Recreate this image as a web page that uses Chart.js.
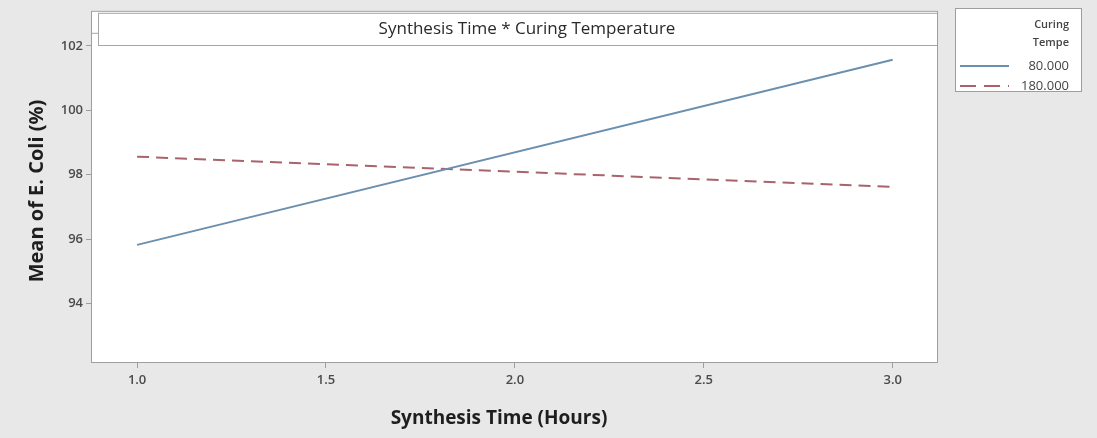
<!DOCTYPE html>
<html>
<head>
<meta charset="utf-8">
<script src="https://cdn.jsdelivr.net/npm/chart.js@4/dist/chart.umd.min.js"></script>
<style>
  html, body { margin: 0; padding: 0; background: #e8e8e8; }
  canvas { display: block; }
</style>
</head>
<body>
<canvas id="grafica" width="1097" height="438"></canvas>
<script>
// Synthesis time (hours) and mean E. coli (%) for each curing temperature
const synthesisTime = [1.0, 3.0];
const temp80 = [95.82, 101.57];
const temp180 = [98.56, 97.62];
const seriesNames = ['80.000', '180.000'];
const xTicks = [1.0, 1.5, 2.0, 2.5, 3.0];
const yTicks = [94, 96, 98, 100, 102];

const FONT = '"Open Sans", "Noto Sans", sans-serif';
const azul = '#6b8fae';
const rojo = '#a8636d';

// plot panel: white background, frame, header strip with the title, axis titles
const panelPlugin = {
    id: 'panel',
    beforeDraw(chart) {
        const { ctx, chartArea: a } = chart;
        ctx.save();
        ctx.fillStyle = '#ffffff';
        ctx.fillRect(a.left, a.top, a.right - a.left, a.bottom - a.top);
        ctx.restore();
    },
    afterDatasetsDraw(chart) {
        const { ctx, chartArea: a, scales } = chart;
        const yTop = Math.round(scales.y.getPixelForValue(102)) - 0.5;
        ctx.save();
        // header strip
        ctx.fillStyle = '#ffffff';
        ctx.fillRect(a.left + 7, a.top + 2, a.right - a.left - 7, yTop - a.top - 2);
        ctx.strokeStyle = '#a6a6a6';
        ctx.lineWidth = 1;
        ctx.strokeRect(a.left + 7.5, a.top + 2.5, a.right - a.left - 8, yTop - a.top - 2.5);
        ctx.beginPath();
        ctx.moveTo(a.left, a.top + 22.5);
        ctx.lineTo(a.left + 7, a.top + 22.5);
        ctx.stroke();
        ctx.fillStyle = '#2a2a2a';
        ctx.font = '17px ' + FONT;
        ctx.textAlign = 'center';
        ctx.textBaseline = 'middle';
        ctx.fillText('Synthesis Time * Curing Temperature', 527, (a.top + yTop) / 2 + 1);
        // frame
        ctx.strokeStyle = '#9e9e9e';
        ctx.strokeRect(a.left + 0.5, a.top + 0.5, a.right - a.left - 1, a.bottom - a.top - 1);
        ctx.restore();
    },
    afterDraw(chart) {
        const { ctx } = chart;
        ctx.save();
        ctx.fillStyle = '#1e1e1e';
        ctx.textAlign = 'center';
        ctx.textBaseline = 'middle';
        ctx.font = 'bold 19px ' + FONT;
        ctx.fillText('Synthesis Time (Hours)', 499, 419);
        ctx.translate(37, 191);
        ctx.rotate(-Math.PI / 2);
        ctx.font = 'bold 20px ' + FONT;
        ctx.fillText('Mean of E. Coli (%)', 0, 0);
        ctx.restore();
    }
};

// legend box on the right
const leyendaPlugin = {
    id: 'leyenda',
    afterDraw(chart) {
        const { ctx } = chart;
        const x0 = 955, y0 = 8, w = 127, h = 84;
        ctx.save();
        ctx.fillStyle = '#ffffff';
        ctx.fillRect(x0, y0, w, h);
        ctx.strokeStyle = '#9e9e9e';
        ctx.lineWidth = 1;
        ctx.strokeRect(x0 + 0.5, y0 + 0.5, w - 1, h - 1);
        ctx.fillStyle = '#444444';
        ctx.font = '600 11px ' + FONT;
        ctx.textAlign = 'right';
        ctx.textBaseline = 'middle';
        ctx.fillText('Curing', 1069, 25);
        ctx.fillText('Tempe', 1069, 43);
        ctx.font = '13px ' + FONT;
        const colores = [azul, rojo];
        const dashes = [[], [16, 8]];
        [66, 86].forEach((yy, i) => {
            ctx.strokeStyle = colores[i];
            ctx.lineWidth = 2;
            ctx.setLineDash(dashes[i]);
            ctx.beginPath();
            ctx.moveTo(960, yy);
            ctx.lineTo(1009, yy);
            ctx.stroke();
            ctx.fillText(seriesNames[i], 1069, yy);
        });
        ctx.restore();
    }
};

const ejeGrid = { display: true, drawOnChartArea: false, drawTicks: true, tickLength: 5, tickColor: '#9e9e9e' };

const ctx = document.getElementById('grafica').getContext('2d');
new Chart(ctx, {
    type: 'line',
    data: {
        datasets: [{
            label: seriesNames[0],
            data: synthesisTime.map((t, i) => ({ x: t, y: temp80[i] })),
            borderColor: azul,
            borderWidth: 2,
            pointRadius: 0
        }, {
            label: seriesNames[1],
            data: synthesisTime.map((t, i) => ({ x: t, y: temp180[i] })),
            borderColor: rojo,
            borderWidth: 2,
            borderDash: [12, 7],
            pointRadius: 0
        }]
    },
    options: {
        responsive: false,
        animation: false,
        layout: { padding: { top: 8, right: 159, left: 0, bottom: 0 } },
        plugins: {
            legend: { display: false },
            tooltip: { enabled: false }
        },
        scales: {
            x: {
                type: 'linear',
                min: 0.878,
                max: 3.12,
                afterBuildTicks: s => { s.ticks = xTicks.map(v => ({ value: v })); },
                afterFit: s => { s.height = 75; },
                grid: ejeGrid,
                border: { display: false },
                ticks: {
                    color: '#4a4a4a',
                    font: { family: FONT, size: 13, weight: '600' },
                    padding: 4,
                    maxRotation: 0,
                    callback: v => v.toFixed(1)
                }
            },
            y: {
                min: 92.15,
                max: 103.09,
                afterBuildTicks: s => { s.ticks = yTicks.map(v => ({ value: v })); },
                afterFit: s => { s.width = 91; },
                grid: ejeGrid,
                border: { display: false },
                ticks: {
                    color: '#4a4a4a',
                    font: { family: FONT, size: 13, weight: '600' },
                    padding: 3
                }
            }
        }
    },
    plugins: [panelPlugin, leyendaPlugin]
});
</script>
</body>
</html>
